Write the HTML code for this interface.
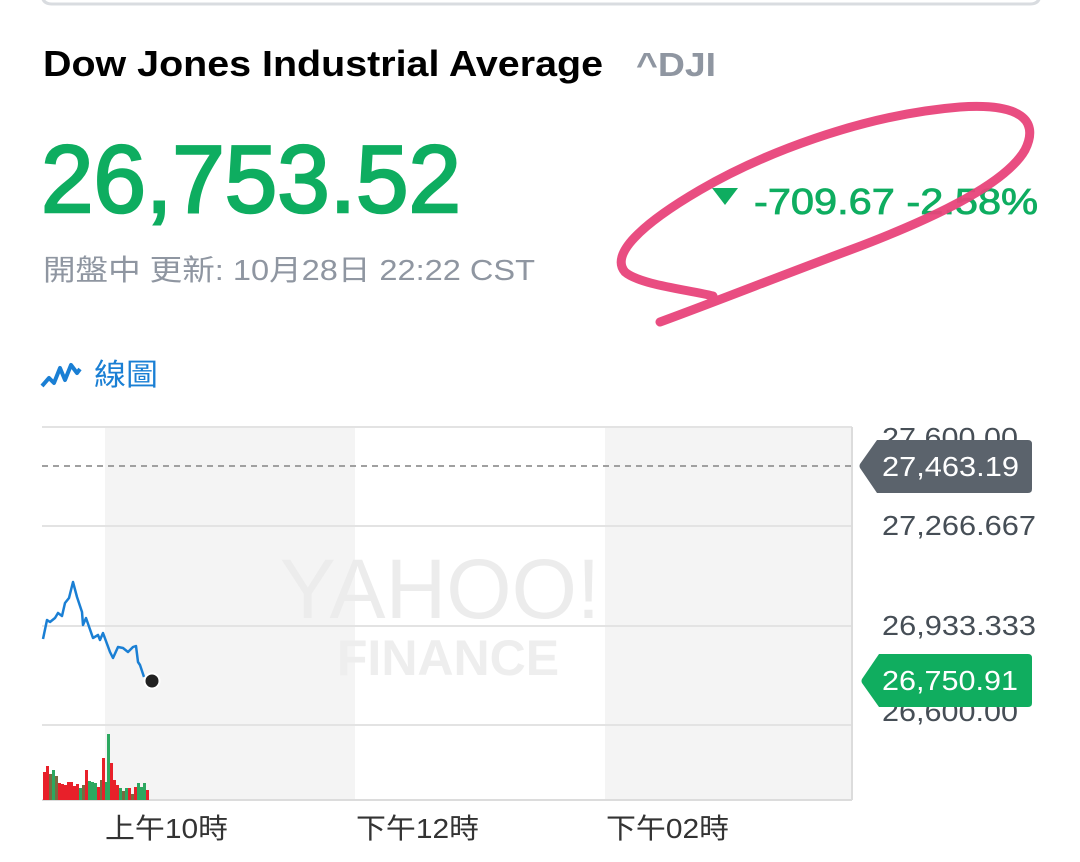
<!DOCTYPE html>
<html><head><meta charset="utf-8"><style>
html,body{margin:0;padding:0;background:#fff;width:1080px;height:862px;overflow:hidden}
svg{display:block}
text{font-family:"Liberation Sans","Noto Sans CJK TC",sans-serif}
</style></head><body>
<svg width="1080" height="862" viewBox="0 0 1080 862" xmlns="http://www.w3.org/2000/svg">
<path d="M42 -10 V-6 Q42 4 52 4 H1030 Q1040 4 1040 -6 V-10" fill="none" stroke="#d9dce0" stroke-width="3"/>
<text x="43" y="76" font-size="36" font-weight="bold" fill="#000" textLength="560" lengthAdjust="spacingAndGlyphs">Dow Jones Industrial Average</text>
<text x="636" y="76" font-size="33" font-weight="bold" fill="#8f96a1" textLength="80" lengthAdjust="spacingAndGlyphs">^DJI</text>
<text x="41" y="212" font-size="96" fill="#0ead60" stroke="#0ead60" stroke-width="2.5" textLength="420" lengthAdjust="spacingAndGlyphs">26,753.52</text>
<text x="43" y="280" font-size="29" fill="#8f96a1" textLength="492" lengthAdjust="spacingAndGlyphs">開盤中 更新: 10月28日 22:22 CST</text>
<polygon points="712,188 738,188 725,205" fill="#0ead60"/>
<text x="754" y="214" font-size="36" fill="#0ead60" stroke="#0ead60" stroke-width="0.8" textLength="284" lengthAdjust="spacingAndGlyphs">-709.67 -2.58%</text>
<path d="M713 296 C690 290 640 285 625 272 C610 255 640 225 700 190 C760 155 860 115 960 107 C1020 103 1040 120 1025 150 C1005 185 930 220 850 250 C780 276 720 300 660 322" fill="none" stroke="#e8437a" stroke-width="9" stroke-linecap="round" opacity="0.95"/>
<polyline points="42,386 49,378 54,383 60,368 65,380 71,365 77,373 80,369" fill="none" stroke="#1a7fd4" stroke-width="4" stroke-linejoin="round"/>
<text x="94" y="385" font-size="30" fill="#1a7fd4" textLength="64" lengthAdjust="spacingAndGlyphs">線圖</text>
<rect x="105" y="427" width="250" height="373" fill="#f4f4f4"/>
<rect x="605" y="427" width="247" height="373" fill="#f4f4f4"/>
<line x1="42" y1="427" x2="852" y2="427" stroke="#e3e3e3" stroke-width="2"/>
<line x1="42" y1="526" x2="852" y2="526" stroke="#e3e3e3" stroke-width="2"/>
<line x1="42" y1="626" x2="852" y2="626" stroke="#e3e3e3" stroke-width="2"/>
<line x1="42" y1="725" x2="852" y2="725" stroke="#e3e3e3" stroke-width="2"/>
<line x1="42" y1="800" x2="852" y2="800" stroke="#dcdcdc" stroke-width="2"/>
<line x1="852" y1="427" x2="852" y2="800" stroke="#dcdcdc" stroke-width="2"/>
<text x="440" y="618" font-size="84" fill="#ececec" text-anchor="middle" font-family="Liberation Serif">YAHOO!</text>
<text x="448" y="675" font-size="50" font-weight="bold" fill="#eeeeee" text-anchor="middle">FINANCE</text>
<line x1="42" y1="466" x2="852" y2="466" stroke="#a0a0a0" stroke-width="2" stroke-dasharray="6,5"/>
<polyline points="43,639 47,620 50,622 55,618 58,613 62,616 65,603 69,598 73,582 77,597 82,612 83,625 86,618 93,638 98,635 100,640 103,633 110,652 113,658 118,647 123,648 128,652 133,647 136,646 138,662 140,665 144,677" fill="none" stroke="#1a7fd4" stroke-width="2.5" stroke-linejoin="round"/>
<circle cx="152" cy="681" r="7.5" fill="#222" stroke="#fff" stroke-width="2"/>
<g>
<rect x="43" y="772" width="3" height="28" fill="#e8202a"/>
<rect x="46" y="766" width="3" height="34" fill="#e8202a"/>
<rect x="49" y="774" width="3" height="26" fill="#7a6a40"/>
<rect x="52" y="770" width="3" height="30" fill="#2ca860"/>
<rect x="55" y="776" width="3" height="24" fill="#7a6a40"/>
<rect x="58" y="783" width="3" height="17" fill="#e8202a"/>
<rect x="61" y="784" width="3" height="16" fill="#e8202a"/>
<rect x="64" y="785" width="3" height="15" fill="#e8202a"/>
<rect x="67" y="782" width="3" height="18" fill="#e8202a"/>
<rect x="70" y="782" width="3" height="18" fill="#e8202a"/>
<rect x="73" y="786" width="3" height="14" fill="#e8202a"/>
<rect x="76" y="784" width="3" height="16" fill="#e8202a"/>
<rect x="79" y="788" width="3" height="12" fill="#2ca860"/>
<rect x="82" y="785" width="3" height="15" fill="#7a6a40"/>
<rect x="85" y="770" width="3" height="30" fill="#e8202a"/>
<rect x="88" y="781" width="3" height="19" fill="#2ca860"/>
<rect x="91" y="782" width="3" height="18" fill="#2ca860"/>
<rect x="94" y="783" width="3" height="17" fill="#2ca860"/>
<rect x="97" y="787" width="3" height="13" fill="#e8202a"/>
<rect x="100" y="780" width="3" height="20" fill="#7a6a40"/>
<rect x="102" y="758" width="3" height="42" fill="#e8202a"/>
<rect x="105" y="782" width="2" height="18" fill="#2ca860"/>
<rect x="107" y="734" width="3" height="66" fill="#2ca860"/>
<rect x="110" y="763" width="3" height="37" fill="#e8202a"/>
<rect x="113" y="780" width="3" height="20" fill="#e8202a"/>
<rect x="116" y="785" width="3" height="15" fill="#e8202a"/>
<rect x="119" y="788" width="3" height="12" fill="#2ca860"/>
<rect x="122" y="791" width="3" height="9" fill="#7a6a40"/>
<rect x="125" y="788" width="3" height="12" fill="#2ca860"/>
<rect x="128" y="788" width="3" height="12" fill="#e8202a"/>
<rect x="131" y="794" width="3" height="6" fill="#7a6a40"/>
<rect x="134" y="787" width="3" height="13" fill="#e8202a"/>
<rect x="137" y="783" width="3" height="17" fill="#2ca860"/>
<rect x="140" y="787" width="3" height="13" fill="#2ca860"/>
<rect x="143" y="783" width="3" height="17" fill="#2ca860"/>
<rect x="146" y="790" width="3" height="10" fill="#e8202a"/>
</g>
<g font-size="28" fill="#464e56">
<text x="882" y="447" textLength="136" lengthAdjust="spacingAndGlyphs">27,600.00</text>
<text x="882" y="535" textLength="154" lengthAdjust="spacingAndGlyphs">27,266.667</text>
<text x="882" y="635" textLength="154" lengthAdjust="spacingAndGlyphs">26,933.333</text>
<text x="882" y="721" textLength="136" lengthAdjust="spacingAndGlyphs">26,600.00</text>
</g>
<path d="M877 440 H1028 Q1032 440 1032 444 V489 Q1032 493 1028 493 H877 L860 468 Q859 466 860 464 Z" fill="#5b636c"/>
<text x="882" y="476" font-size="28" fill="#fff" textLength="137" lengthAdjust="spacingAndGlyphs">27,463.19</text>
<path d="M879 654 H1028 Q1032 654 1032 658 V703 Q1032 707 1028 707 H879 L862 683 Q861 681 862 679 Z" fill="#10ad5f"/>
<text x="882" y="690" font-size="28" fill="#fff" textLength="136" lengthAdjust="spacingAndGlyphs">26,750.91</text>
<g font-size="28" fill="#333">
<text x="105" y="838" textLength="123" lengthAdjust="spacingAndGlyphs">上午10時</text>
<text x="356" y="838" textLength="123" lengthAdjust="spacingAndGlyphs">下午12時</text>
<text x="606" y="838" textLength="123" lengthAdjust="spacingAndGlyphs">下午02時</text>
</g>
</svg>
</body></html>
